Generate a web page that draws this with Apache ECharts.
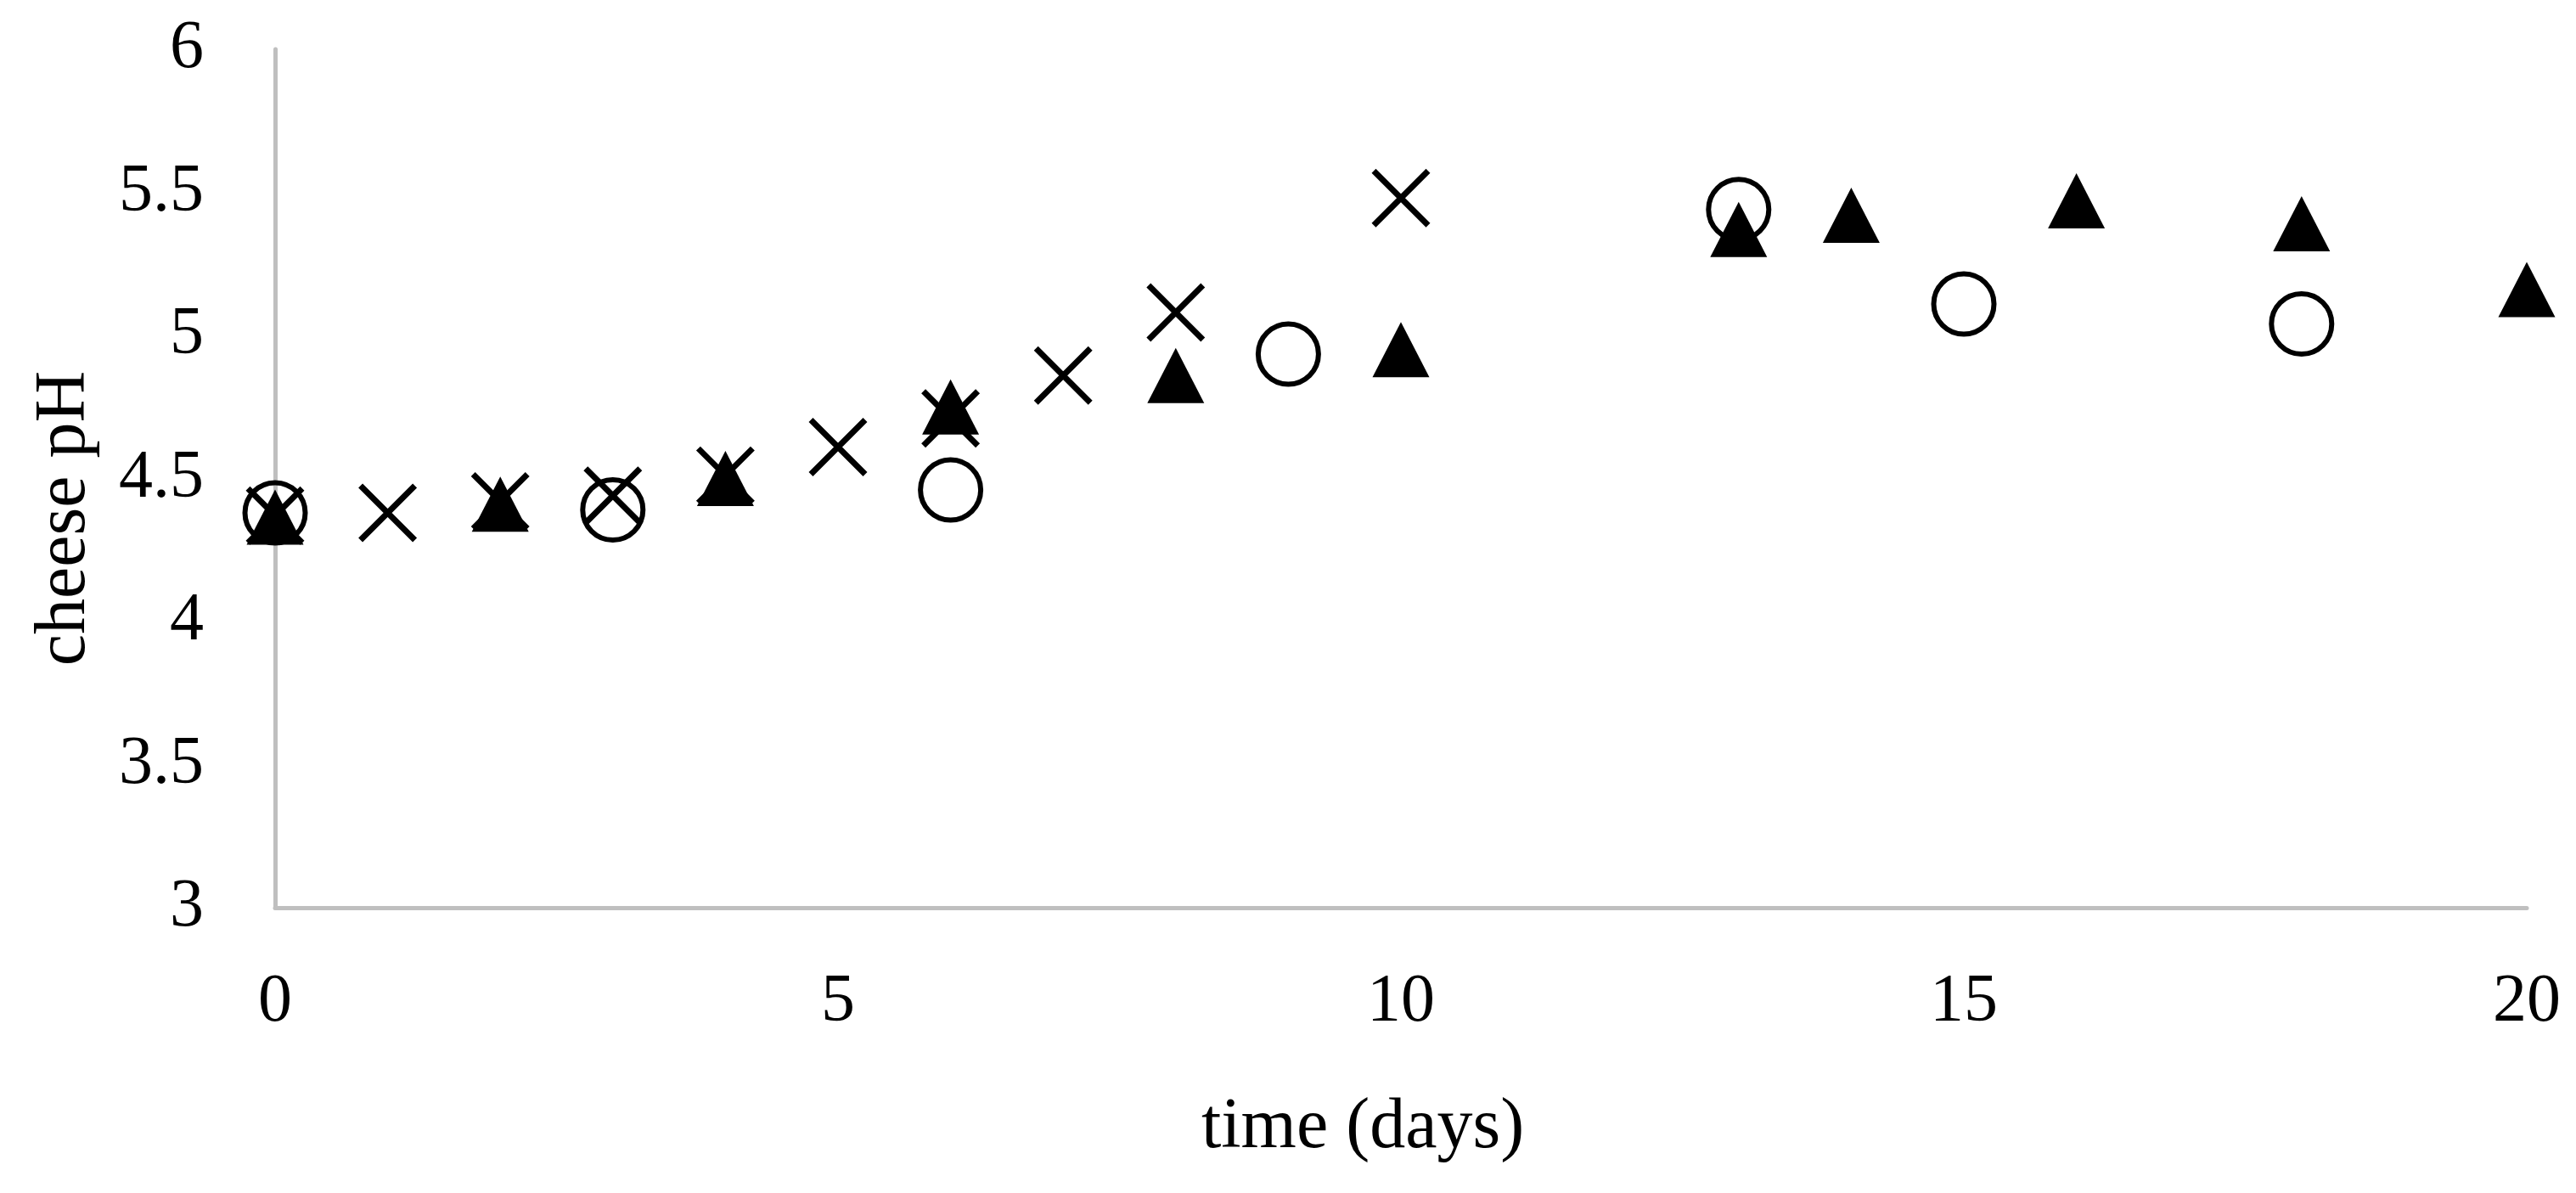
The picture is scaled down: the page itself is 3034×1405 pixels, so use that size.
<!DOCTYPE html>
<html lang="en">

<head>
  <meta charset="UTF-8">
  <title>cheese pH</title>
  <script src="https://cdn.jsdelivr.net/npm/echarts@6/dist/echarts.min.js"></script>
  <style>
    html, body {
      margin: 0;
      padding: 0;
      background: #fff;
    }
    #chart {
      width: 3034px;
      height: 1405px;
    }
  </style>
</head>

<body>
  <div id="chart"></div>
</body>

</html>
<script>
  // days and pH
  const crossDays = [0, 1, 2, 3, 4, 5, 6, 7, 8, 10];
  const crossPH = [4.37, 4.38, 4.42, 4.44, 4.51, 4.61, 4.71, 4.86, 5.08, 5.48];

  const circleDays = [0, 3, 6, 9, 13, 15, 18];
  const circlePH = [4.38, 4.39, 4.46, 4.935, 5.44, 5.11, 5.04];

  const triDays = [0, 2, 4, 6, 8, 10, 13, 14, 16, 18, 20];
  const triPH = [4.365, 4.41, 4.50, 4.75, 4.86, 4.95, 5.37, 5.42, 5.47, 5.39, 5.16];

  function pairs(xs, ys) {
    return xs.map((x, i) => [x, ys[i]]);
  }

  const font = 'Liberation Serif';
  const axisGrey = '#bfbfbf';

  let chart = echarts.init(document.getElementById('chart'));

  chart.setOption({
    animation: false,
    grid: {
      left: 324,
      right: 58,
      top: 58,
      bottom: 336
    },
    xAxis: {
      type: 'value',
      min: 0,
      max: 20,
      interval: 5,
      name: 'time (days)',
      nameLocation: 'middle',
      nameGap: 218,
      nameTextStyle: {
        fontFamily: font,
        fontSize: 84,
        lineHeight: 84,
        color: '#000',
        padding: [0, 90, 0, 0]
      },
      axisLine: { lineStyle: { color: axisGrey, width: 5 } },
      axisTick: { show: false },
      splitLine: { show: false },
      axisLabel: {
        fontFamily: font,
        fontSize: 80,
        lineHeight: 80,
        color: '#000',
        margin: 72
      }
    },
    yAxis: {
      type: 'value',
      min: 3,
      max: 6,
      interval: 0.5,
      name: 'cheese pH',
      nameLocation: 'middle',
      nameGap: 205,
      nameTextStyle: {
        fontFamily: font,
        fontSize: 84,
        lineHeight: 84,
        color: '#000',
        padding: [0, 94, 0, 0]
      },
      axisLine: { show: true, lineStyle: { color: axisGrey, width: 5 } },
      axisTick: { show: false },
      splitLine: { show: false },
      axisLabel: {
        fontFamily: font,
        fontSize: 80,
        color: '#000',
        margin: 84
      }
    },
    series: [
      {
        type: 'scatter',
        clip: false,
        symbol: 'circle',
        symbolSize: 71,
        itemStyle: { color: 'none', borderColor: '#000', borderWidth: 6, opacity: 1 },
        data: pairs(circleDays, circlePH)
      },
      {
        type: 'scatter',
        clip: false,
        symbol: 'path://M0,0L10,10M10,0L0,10',
        symbolSize: 64,
        itemStyle: { color: 'none', borderColor: '#000', borderWidth: 7, opacity: 1 },
        data: pairs(crossDays, crossPH)
      },
      {
        type: 'scatter',
        clip: false,
        symbol: 'triangle',
        symbolSize: [67, 65],
        itemStyle: { color: '#000', opacity: 1 },
        data: pairs(triDays, triPH)
      }
    ]
  });
</script>
